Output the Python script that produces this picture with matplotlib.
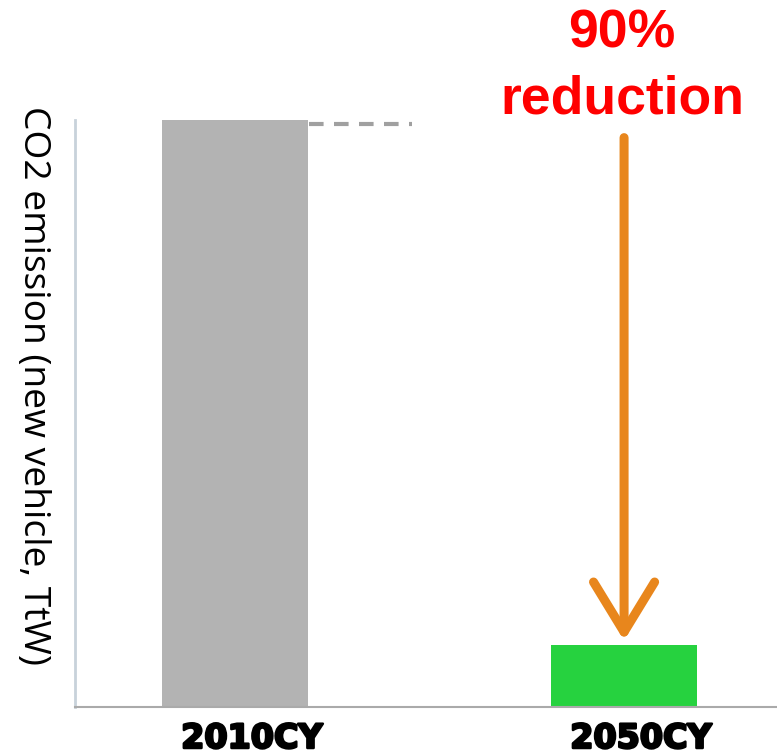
import matplotlib
matplotlib.use('Agg')
import matplotlib.pyplot as plt
import matplotlib.patheffects as pe

# data
categories = ['2010CY', '2050CY']
emission = [100, 10.5]
bar_colors = ['#b3b3b3', '#26d23f']
ylabel = 'CO2 emission (new vehicle, TtW)'
note_lines = ['90%', 'reduction']

W, H = 777, 755
fig = plt.figure(figsize=(W / 100, H / 100), dpi=100)
ax = fig.add_axes([75 / W, 1 - 707 / H, 702 / W, 587 / H])

x = [0, 1]
ax.bar(x, emission, width=0.375, color=bar_colors, zorder=2)
ax.set_xlim(-0.411, 1.393)
ax.set_ylim(0, 100)

# dashed reference line from top of first bar
ax.plot([0.19, 0.455], [emission[0] * 0.993] * 2, color='#a0a0a0', lw=3,
        dashes=(3.5, 2.5), zorder=1)

# reduction arrow
ax.annotate('', xy=(x[1], 11.3), xytext=(x[1], 97.0),
            arrowprops=dict(arrowstyle='->,head_length=3.6,head_width=2.2',
                            color='#e8861c', lw=6.5, shrinkA=0, shrinkB=0))

for s in ['top', 'right']:
    ax.spines[s].set_visible(False)
ax.spines['left'].set_color('#c8d2da')
ax.spines['left'].set_linewidth(2)
ax.spines['bottom'].set_color('#aaaaaa')
ax.spines['bottom'].set_linewidth(1.5)
ax.set_yticks([])
ax.set_xticks([])

# category labels, set slightly right of bar centres as in the original
for xi, lab in zip(x, categories):
    ax.annotate(lab, xy=(xi, 0), xytext=(17, -41), textcoords='offset pixels',
                ha='center', va='baseline', fontsize=24, fontweight='bold',
                family='DejaVu Sans', annotation_clip=False,
                path_effects=[pe.withStroke(linewidth=1.8, foreground='black')])

# y label reads top-to-bottom
fig.text(33 / W, 1 - 386 / H, ylabel, rotation=-90, ha='center', va='center',
         fontsize=26.8, family='Open Sans')
for txt, base in zip(note_lines, [48, 113]):
    fig.text(622 / W, 1 - base / H, txt, ha='center', va='baseline', color='#ff0000',
             fontsize=38.5, fontweight='bold', family='Liberation Sans')

fig.savefig('out.png', dpi=100)
